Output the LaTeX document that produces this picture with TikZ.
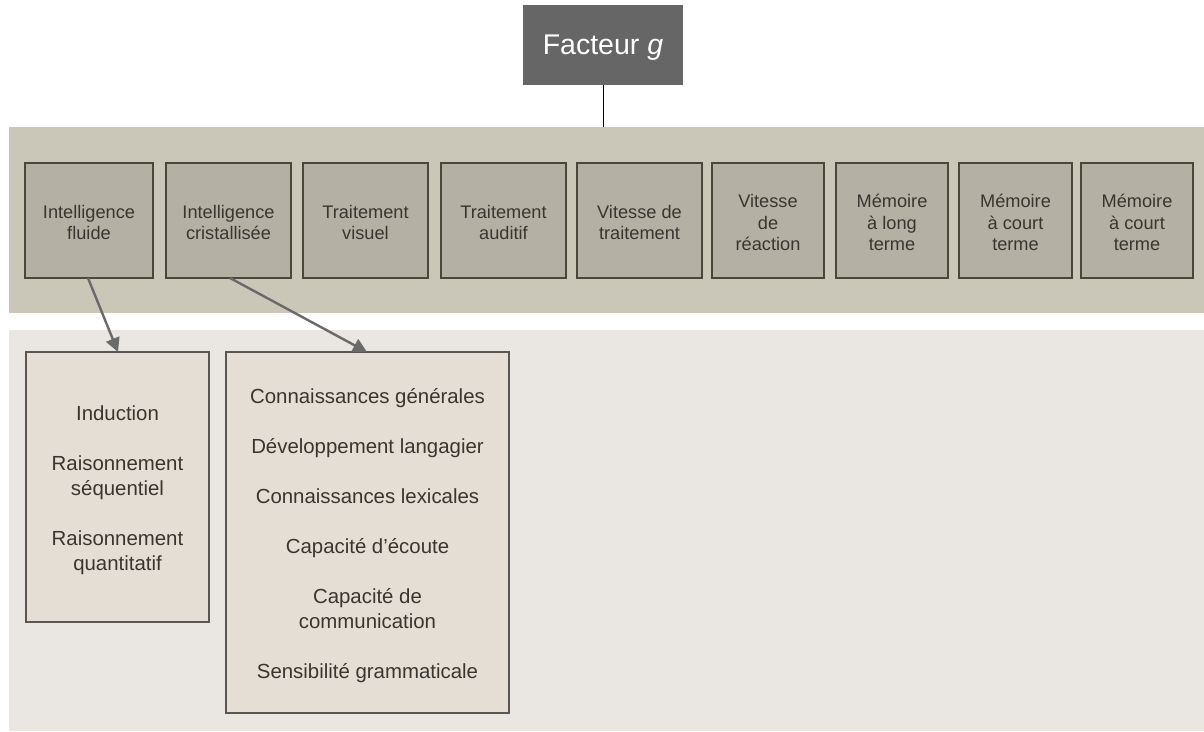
\documentclass[tikz,border=0pt]{standalone}
\usepackage{fontspec}
\setmainfont{Liberation Sans}
\usetikzlibrary{arrows.meta}
\definecolor{bandtop}{HTML}{CAC6B8}
\definecolor{bandlow}{HTML}{EAE6E2}
\definecolor{abilityfill}{HTML}{B4B0A3}
\definecolor{abilityline}{HTML}{4A4639}
\definecolor{detailfill}{HTML}{E5DED5}
\definecolor{detailline}{HTML}{5A5752}
\definecolor{gfill}{HTML}{666666}
\definecolor{arrowgray}{HTML}{6A6A6A}
\definecolor{textdark}{HTML}{38362F}
\tikzset{
  ability/.style={draw=abilityline, line width=1.6pt, fill=abilityfill,
    inner sep=0pt},
  detail/.style={draw=detailline, line width=1.6pt, fill=detailfill,
    inner sep=0pt},
  abilitytext/.style={align=center, text=textdark, yshift=-2pt,
    font=\fontsize{18.2}{21.7}\selectfont},
  detailtext/.style={align=center, text=textdark,
    font=\fontsize{20.4}{25}\selectfont},
  subarrow/.style={draw=arrowgray, line width=2.4pt,
    -{Triangle[length=14pt,width=14pt]}},
}
% box from corner to corner
\newcommand{\cbox}[6]{%
  \node[#1, minimum width={#4-#2}, minimum height={#5-#3}]
    (#6) at ({(#2+#4)/2},{(#3+#5)/2}) {};}
\begin{document}
\begin{tikzpicture}[x=1pt,y=-1pt]
\useasboundingbox (0,0) rectangle (1204,731);
\fill[white] (0,0) rectangle (1204,731);
% background bands
\fill[bandtop] (9,127) rectangle (1204,313);
\fill[bandlow] (9,330) rectangle (1204,731);

% general factor
\node[fill=gfill, minimum width=160pt, minimum height=80pt,
  inner sep=0pt] (g) at (603,45) {};
\node[text=white, font=\fontsize{28.5}{32}\selectfont] at ([yshift=-3pt]g.center)
  {Facteur \textit{g}};
\coordinate (bandtopmid) at (603,127);
\draw[black, line width=1pt] (g.south) -- (bandtopmid);

% broad abilities
\cbox{ability}{25}{163}{153}{278}{a1}
\cbox{ability}{166}{163}{291}{278}{a2}
\cbox{ability}{303}{163}{428}{278}{a3}
\cbox{ability}{441}{163}{566}{278}{a4}
\cbox{ability}{577}{163}{702}{278}{a5}
\cbox{ability}{712}{163}{824}{278}{a6}
\cbox{ability}{836}{163}{948}{278}{a7}
\cbox{ability}{959}{163}{1072}{278}{a8}
\cbox{ability}{1081}{163}{1193}{278}{a9}
\node[abilitytext] at (a1) {Intelligence\\fluide};
\node[abilitytext] at (a2) {Intelligence\\cristallisée};
\node[abilitytext] at (a3) {Traitement\\visuel};
\node[abilitytext] at (a4) {Traitement\\auditif};
\node[abilitytext] at (a5) {Vitesse de\\traitement};
\node[abilitytext] at (a6) {Vitesse\\de\\réaction};
\node[abilitytext] at (a7) {Mémoire\\à long\\terme};
\node[abilitytext] at (a8) {Mémoire\\à court\\terme};
\node[abilitytext] at (a9) {Mémoire\\à court\\terme};

% narrow abilities
\cbox{detail}{26}{352}{209}{622}{d1}
\cbox{detail}{226}{352}{509}{713}{d2}
\node[detailtext] at (d1.center |- 0,490)
  {Induction\\[25pt]Raisonnement\\séquentiel\\[25pt]Raisonnement\\quantitatif};
\node[detailtext] at (d2.center |- 0,536)
  {Connaissances générales\\[25pt]Développement langagier\\[25pt]Connaissances lexicales\\[25pt]Capacité d’écoute\\[25pt]Capacité de\\communication\\[25pt]Sensibilité grammaticale};

% links
\coordinate (a1foot) at (88,278);
\coordinate (a2foot) at (230,278);
\coordinate (d1head) at (118,352);
\coordinate (d2head) at (367,352);
\draw[subarrow] (a1foot) -- (d1head);
\draw[subarrow] (a2foot) -- (d2head);
\end{tikzpicture}
\end{document}
